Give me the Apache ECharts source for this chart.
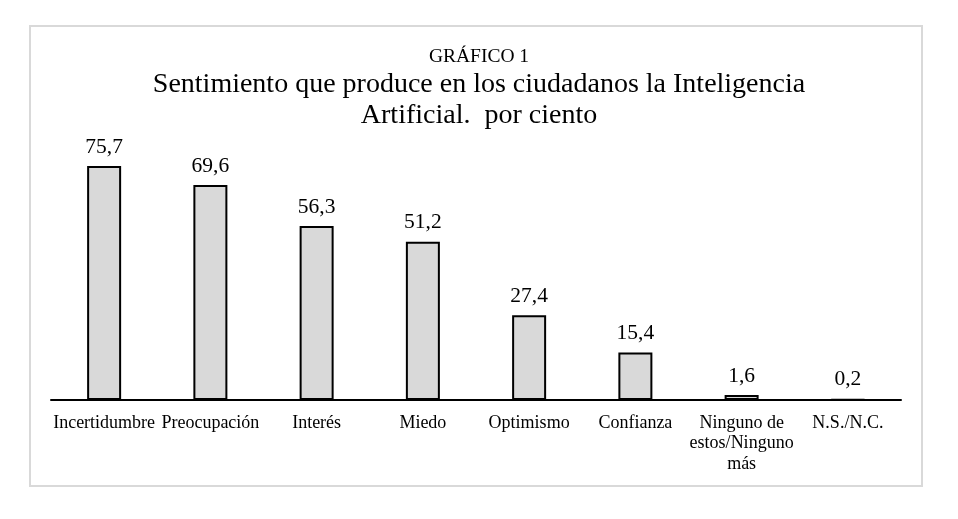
<!DOCTYPE html>
<html>
<head>
<meta charset="utf-8">
<script src="https://cdn.jsdelivr.net/npm/echarts@6/dist/echarts.min.js"></script>
<style>
  html, body { margin: 0; padding: 0; background: #fff; }
  #chart { width: 958px; height: 519px; }
</style>
</head>
<body>
<div id="chart"></div>
<script>
const categories = [
  'Incertidumbre', 'Preocupación', 'Interés', 'Miedo', 'Optimismo',
  'Confianza', 'Ninguno de\nestos/Ninguno\nmás', 'N.S./N.C.'
];
const values = [75.7, 69.6, 56.3, 51.2, 27.4, 15.4, 1.6, 0.2];
const titleLines = [
  'Sentimiento que produce en los ciudadanos la Inteligencia',
  'Artificial.  por ciento',
];

const serif = '"Liberation Serif", "Times New Roman", serif';
const chart = echarts.init(document.getElementById('chart'));

const titleStyle = (size) => ({
  fontFamily: serif, fontSize: size, fontWeight: 'normal', color: '#000',
});

chart.setOption({
  backgroundColor: '#fff',
  animation: false,
  graphic: [
    {
      type: 'rect',
      shape: { x: 30, y: 26, width: 892, height: 460 },
      style: { fill: 'none', stroke: '#d9d9d9', lineWidth: 2 },
    },
  ],
  title: [
    { text: 'GRÁFICO 1', left: 'center', top: 42, textStyle: titleStyle(19.5) },
    { text: titleLines[0], left: 'center', top: 66, textStyle: titleStyle(28) },
    { text: titleLines[1], left: 'center', top: 97, textStyle: titleStyle(28) },
  ],
  grid: { left: 51, right: 57, top: 91, bottom: 119 },
  xAxis: {
    type: 'category',
    data: categories,
    axisLine: { lineStyle: { color: '#000', width: 2 } },
    axisTick: { show: false },
    axisLabel: {
      interval: 0,
      margin: 13,
      color: '#000',
      fontFamily: serif,
      fontSize: 18,
      lineHeight: 20.5,
    },
  },
  yAxis: {
    type: 'value',
    min: 0,
    max: 100,
    show: false,
    splitLine: { show: false },
  },
  series: [
    {
      type: 'bar',
      data: values,
      barWidth: 34,
      itemStyle: { color: '#d9d9d9', borderColor: '#000', borderWidth: 2 },
      label: {
        show: true,
        position: 'top',
        distance: 8,
        color: '#000',
        fontFamily: serif,
        fontSize: 21.5,
        formatter: (p) => String(p.value).replace('.', ','),
      },
    },
  ],
});
</script>
</body>
</html>
